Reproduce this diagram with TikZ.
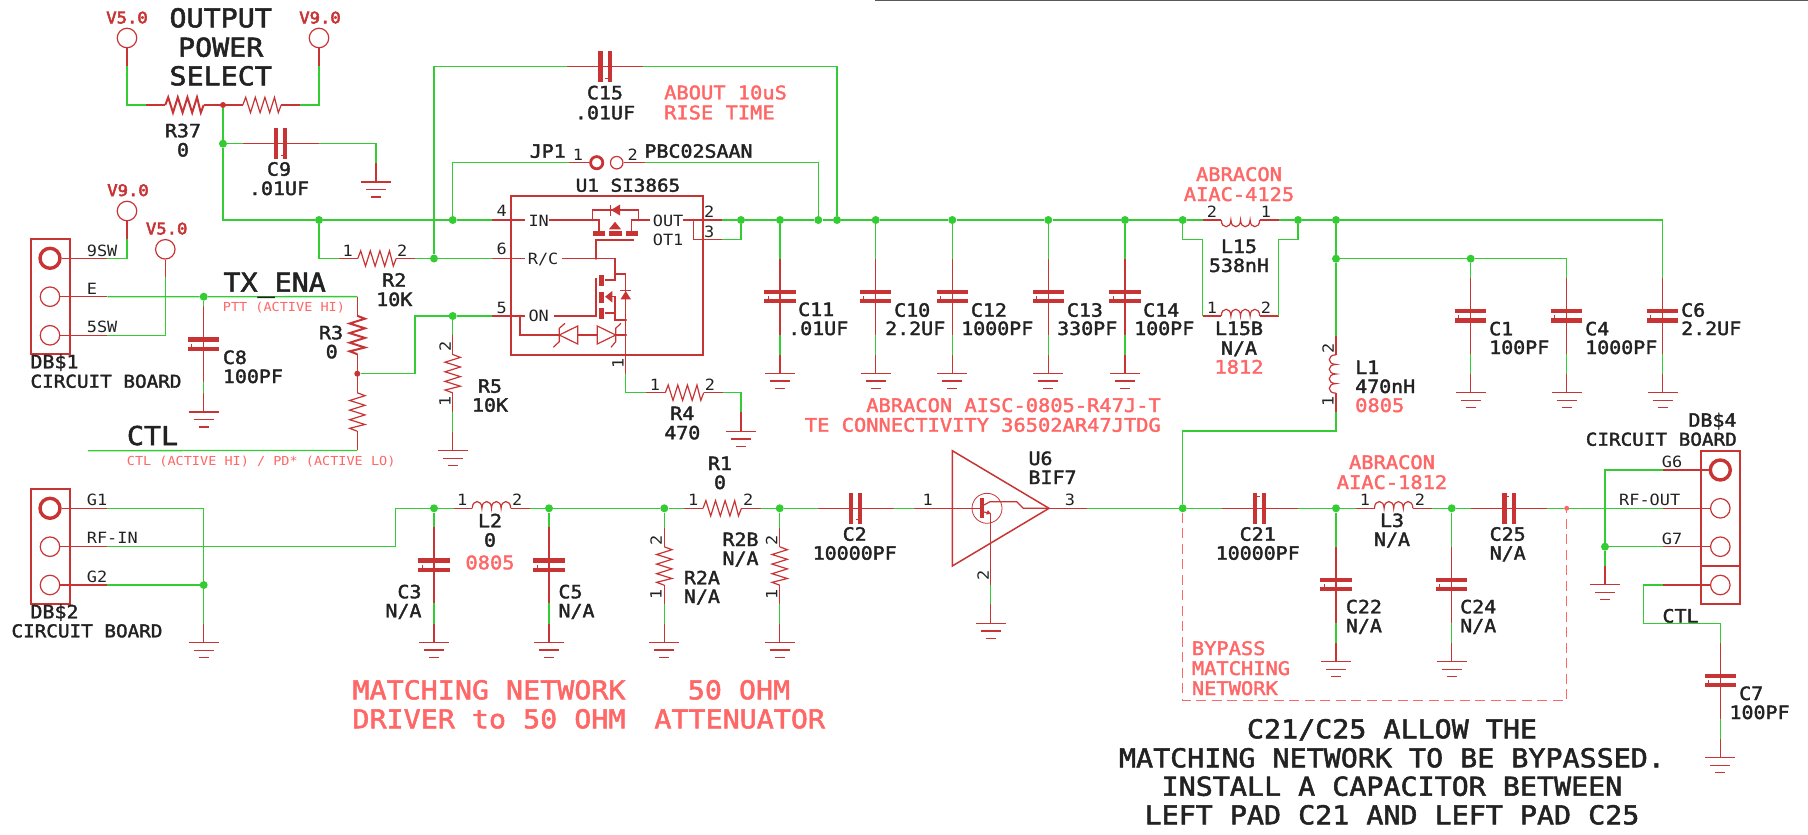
\documentclass[tikz,border=0pt]{standalone}
\usepackage{fontspec}
\newfontfamily\ef[FakeStretch=1.09]{DejaVu Sans Mono}
\newfontfamily\efm[FakeStretch=1.09,FakeBold=2]{DejaVu Sans Mono}
\newfontfamily\efv[FakeStretch=1.09,FakeBold=3.5]{DejaVu Sans Mono}
\newcommand{\fa}{\efm\fontsize{18.3}{20}\selectfont}
\newcommand{\fc}{\efm\fontsize{17.7}{20}\selectfont}
\newcommand{\fpa}{\efm\fontsize{18.7}{20}\selectfont}
\newcommand{\fb}{\ef\fontsize{15.5}{17}\selectfont}
\newcommand{\fs}{\ef\fontsize{12.4}{14}\selectfont}
\newcommand{\fl}{\efm\fontsize{26}{28}\selectfont}
\newcommand{\fv}{\efv\fontsize{15.8}{17}\selectfont}
\definecolor{cg}{HTML}{33CC33}
\definecolor{cr}{HTML}{C83434}
\definecolor{cp}{HTML}{FF6666}
\definecolor{ct}{HTML}{222222}
\tikzset{
 wg/.style={draw=cg,line width=1.3pt},
 wr/.style={draw=cr,line width=1.2pt},
 jn/.style={circle,fill=cg,inner sep=0pt,minimum size=8pt},
 rd/.style={circle,fill=cr,inner sep=0pt,minimum size=6pt},
 pd/.style={circle,fill=cp,inner sep=0pt,minimum size=5pt},
 sd/.style={circle,fill=cr,inner sep=0pt,minimum size=2.6pt},
 pad/.style={circle,draw=cr,line width=1.2pt,inner sep=0pt,minimum size=19.5pt},
 padt/.style={circle,draw=cr,line width=3.4pt,inner sep=0pt,minimum size=20pt},
 conn/.style={rectangle,draw=cr,line width=1.8pt,inner sep=0pt},
 ta/.style={font=\fa,text=ct,inner sep=0pt},
 tc/.style={font=\fc,text=ct,inner sep=0pt},
 tb/.style={font=\fb,text=ct,inner sep=0pt},
 tl/.style={font=\fl,text=ct,inner sep=0pt},
 pa/.style={font=\fpa,text=cp,inner sep=0pt},
 ps/.style={font=\fs,text=cp,inner sep=0pt},
 pl/.style={font=\fl,text=cp,inner sep=0pt},
 tv/.style={font=\fv,text=cr,inner sep=0pt},
}
\newcounter{lbc}
\newcommand{\tx}[5]{\stepcounter{lbc}\node[#1,anchor=#2] (txt\arabic{lbc}) at (#3,#4) {#5};}
% capacitors
\newcommand{\capV}[3]{\coordinate (#1A) at (#2,#3-38);\coordinate (#1B) at (#2,#3+38);
 \draw[wr] (#1A)--(#1B);
 \fill[cr] (#2-15.7,#3-6.9) rectangle (#2+15.7,#3-2.5);
 \fill[cr] (#2-15.7,#3+2.5) rectangle (#2+15.7,#3+6.9);
 \draw[cr,line width=.9pt] (#2-12,#3+2.5)--(#2-12,#3-.5);}
\newcommand{\capH}[4]{\coordinate (#1A) at (#2-38,#3);\coordinate (#1B) at (#2+38,#3);
 \draw[wr] (#1A)--(#1B);
 \fill[cr] (#2-6.9,#3-15.5) rectangle (#2-2.5,#3+15.5);
 \fill[cr] (#2+2.5,#3-15.5) rectangle (#2+6.9,#3+15.5);
 \draw[cr,line width=.9pt] (#2,#3+#4*11.5)--(#2+#4*2.5,#3+#4*11.5);}
% resistors
\newcommand{\zig}{(-19.2,0)--(-16.3,-7.7)--(-11.5,7.7)--(-6.7,-7.7)--(-1.9,7.7)--(2.9,-7.7)--(7.7,7.7)--(12.5,-7.7)--(16.3,7.7)--(19.2,0)}
\newcommand{\resH}[4]{\coordinate (#1A) at (#2-38.4,#3);\coordinate (#1B) at (#2+38.4,#3);
 \draw[wr] (#1A)--(#2-19.2,#3) (#2+19.2,#3)--(#1B);
 \draw[cr,line width=#4,shift={(#2,#3)}] \zig;}
\newcommand{\resV}[4]{\coordinate (#1A) at (#2,#3-38.4);\coordinate (#1B) at (#2,#3+38.4);
 \draw[wr] (#1A)--(#2,#3-19.2) (#2,#3+19.2)--(#1B);
 \draw[cr,line width=#4,shift={(#2,#3)},rotate=-90] \zig;}
% inductors
\newcommand{\bumps}{(-19.2,0) .. controls (-19.2,9) and (-9.6,9) .. (-9.6,0) .. controls (-9.6,9) and (0,9) .. (0,0) .. controls (0,9) and (9.6,9) .. (9.6,0) .. controls (9.6,9) and (19.2,9) .. (19.2,0)}
\newcommand{\indH}[4]{\coordinate (#1A) at (#2-38,#3);\coordinate (#1B) at (#2+38,#3);
 \draw[wr] (#1A)--(#2-19.2,#3) (#2+19.2,#3)--(#1B);
 \draw[wr,shift={(#2,#3)},yscale=#4] \bumps;}
\newcommand{\indV}[3]{\coordinate (#1A) at (#2,#3-38);\coordinate (#1B) at (#2,#3+38);
 \draw[wr] (#1A)--(#2,#3-19.2) (#2,#3+19.2)--(#1B);
 \draw[wr,shift={(#2,#3)},rotate=-90] \bumps;}
% ground
\newcommand{\gnd}[3]{\coordinate (#1S) at (#2,#3-19);
 \draw[wr] (#1S)--(#2,#3);
 \draw[cr,line width=1.4pt] (#2-15,#3)--(#2+15,#3) (#2-10,#3+7.5)--(#2+10,#3+7.5) (#2-5,#3+15)--(#2+5,#3+15);}
\begin{document}
\begin{tikzpicture}[x=1pt,y=-1pt]
\useasboundingbox (0,0) rectangle (1808,835);
\draw[color=black!65,line width=1.3pt] (875,.6)--(1808,.6);
%% junctions
\foreach \n/\a/\b in {jA/223/143.7,jB/319/220,jC/452.7/220,jD/434/258.5,jE/452.7/316,jF/203.7/296.7,
 jG/741/220,jH/780/220,jI/818.3/220,jJ/837/220,jK/875.7/220,jL/952.3/220,jM/1048.3/220,jN/1125/220,
 jO/1182.7/220,jP/1298/220,jQ/1336/220,jR/1336/258.7,jS/1470.7/258.7,jT/203.7/585,jU/434/508.3,
 jV/549/508.3,jW/664.3/508.3,jX/779.7/508.3,jY/1182.7/508.3,jZ/1336/508.3,jAA/1451.7/508.3,jAB/1605/546.7}
 {\node[jn] (\n) at (\a,\b) {};}
\node[rd] (rA) at (223,105) {};
\node[rd] (rB) at (357.3,373.7) {};
\node[pd] (pkD) at (1566.7,508.3) {};
%% pads
\node[pad] (pV5a) at (127,38) {};
\node[pad] (pV9a) at (319,38) {};
\node[pad] (pV9b) at (127,211) {};
\node[pad] (pV5b) at (165.3,249.3) {};
\node[conn,minimum width=38.7pt,minimum height=115pt] (DB1) at (50.3,296.8) {};
\node[padt] (p9S) at (50,258.3) {};
\node[pad] (pE) at (50,296.7) {};
\node[pad] (p5S) at (50,335.3) {};
\node[conn,minimum width=38.7pt,minimum height=115pt] (DB2) at (50.3,546.5) {};
\node[padt] (pG1) at (50,508.3) {};
\node[pad] (pRI) at (50,546.7) {};
\node[pad] (pG2) at (50,585) {};
\node[conn,minimum width=38.7pt,minimum height=153.3pt] (DB4) at (1720.3,527.3) {};
\draw[cr,line width=1.8pt] (DB4.west |- 0,565.7)--(DB4.east |- 0,565.7);
\node[padt] (pG6) at (1720.3,470) {};
\node[pad] (pRF) at (1720.3,508.3) {};
\node[pad] (pG7) at (1720.3,546.7) {};
\node[pad] (pCT) at (1720.3,585) {};
\node[circle,draw=cr,line width=2.8pt,inner sep=0pt,minimum size=12.2pt] (pJ1) at (596.7,162.7) {};
\node[circle,draw=cr,line width=1.2pt,inner sep=0pt,minimum size=12.5pt] (pJ2) at (616.7,162.7) {};
\node[conn,minimum width=192.6pt,minimum height=159pt] (U1) at (607,275.5) {};
%% free wire ends
\foreach \n/\a/\b in {cV5a/127/66,cV9a/319/66,cV9b/127/239.3,cV5b/165.3/277.3,c9S/107.3/258.3,cE/107.3/296.7,c5S/107.3/335.3,
 cCTL/88/450.7,cG1/107/508.3,cRI/107/546.7,cG2/107/585,c396/395.7/546.7,c415/415/373.7,
 cIN/492.3/220,c6/492.3/258.5,c5/492.3/316,cOUT/721.7/220,cO3/721.7/239.3,
 cJL/569.3/162.7,cJR/645/162.7,c626/625.7/374,
 cU1/914.3/508.3,cU3/1086.7/508.3,cU2/990.7/585,c431/1336/431,cT2/1202.5/239.3,cT3/1278.5/239.3,
 cG6/1663/470,cRO/1663/508.3,cG7/1663/546.7,cCT/1663/585,cC7t/1643.3/623.3}
 {\coordinate (\n) at (\a,\b);}
%% components
\resH{Rza}{184.5}{105}{2pt}
\resH{Rzb}{262}{105}{1.2pt}
\capH{C9}{280.5}{143.7}{1}
\gnd{gC9}{376}{182}
\capH{C15}{605}{66.7}{1}
\resH{R2}{377}{258.5}{1.2pt}
\resV{R3}{357.3}{335}{2pt}
\resV{Ry}{357.3}{412}{1.2pt}
\resV{R5}{452.7}{373.7}{1.2pt}
\gnd{gR5}{452.7}{450.7}
\capV{C8}{203.7}{344}
\gnd{gC8}{203.7}{412}
\resH{R4}{684.5}{392.7}{1.2pt}
\gnd{gR4}{741}{431.3}
\capV{C11}{780}{296.5}\gnd{gC11}{780}{373.6}
\capV{C10}{875.7}{296.5}\gnd{gC10}{875.7}{373.6}
\capV{C12}{952.3}{296.5}\gnd{gC12}{952.3}{373.6}
\capV{C13}{1048.3}{296.5}\gnd{gC13}{1048.3}{373.6}
\capV{C14}{1125}{296.5}\gnd{gC14}{1125}{373.6}
\capV{C1}{1470.7}{315.8}\gnd{gC1}{1470.7}{392.7}
\capV{C4}{1566.7}{315.8}\gnd{gC4}{1566.7}{392.7}
\capV{C6}{1662.7}{315.8}\gnd{gC6}{1662.7}{392.7}
\indH{L15}{1240.5}{220}{1}
\indH{Lb}{1240.5}{316}{-1}
\indV{L1}{1336}{374}
\indH{L2}{491.5}{508.3}{-1}
\indH{L3}{1393.7}{508.3}{-1}
\resH{R1}{722.2}{508.3}{1.2pt}
\capV{C3}{434}{565}\gnd{gC3}{434}{642.5}
\capV{C5}{549}{565}\gnd{gC5}{549}{642.5}
\resV{R2a}{664.3}{566}{1.2pt}\gnd{gR2a}{664.3}{642.5}
\resV{R2b}{779.7}{566}{1.2pt}\gnd{gR2b}{779.7}{642.5}
\capH{C2}{855.5}{508.3}{1}
\capH{C21}{1259.5}{508.3}{-1}
\capH{C25}{1509}{508.3}{-1}
\capV{C22}{1336}{584.5}\gnd{gC22}{1336}{661.7}
\capV{C24}{1451.7}{584.5}\gnd{gC24}{1451.7}{661.7}
\capV{C7}{1720.3}{680.5}\gnd{gC7}{1720.3}{757.7}
\gnd{gDB2}{203.7}{642.7}
\gnd{gDB4}{1605}{584.7}
\gnd{gU6}{990.7}{623.3}
%% U6
\draw[cr,line width=1.5pt] (952.3,450.7)--(1049,508.3)--(952.3,566)--cycle;
\draw[cr,line width=.8pt] (987,508.3) circle[radius=15pt];
\fill[cr] (980.2,498.3) rectangle (984.4,518.3);
\draw[wr] (984,505)--(990,501.7)--(1016.7,501.7)--(1023.3,508.3)--(1049,508.3);
\draw[wr] (984,512)--(990.7,513.5);
\fill[cr] (990.7,514)--(986,514.5)--(988,510)--cycle;
%% U1 interior
\draw[wr] (525,220)--(cIN) (549,220)--(592.3,220)--(599,220)--(599,231)
 (592.3,220)--(592.3,210)--(638.3,210)--(638.3,220) (631.7,231)--(631.7,220)--(650,220)
 (683.3,220)--(cOUT) (693.3,220)--(693.3,239.3)--(cO3);
\draw[wr] (610.7,204.5)--(610.7,215.5);
\fill[cr] (611,210)--(620,204.5)--(620,215.5)--cycle;
\fill[cr] (615,221.7)--(609,229.3)--(621,229.3)--cycle;
\fill[cr] (592.7,231.2) rectangle (605,235.5);
\fill[cr] (609.3,231.2) rectangle (621.7,235.5);
\fill[cr] (625.7,231.2) rectangle (638.3,235.5);
\draw[wr] (596,258.5)--(596,240)--(634.3,240);
\draw[wr] (525,258.5)--(c6) (562.3,258.5)--(615,258.5)--(615,274)--(625.7,274)--(c626);
\draw[cr,line width=2pt] (615,274)--(615,280)--(605,280) (605,313.3)--(615,313.3);
\fill[cr] (599.3,275) rectangle (604.3,286);
\fill[cr] (599.3,291.7) rectangle (604.3,302.7);
\fill[cr] (599.3,308.3) rectangle (604.3,319);
\fill[cr] (605,296.7)--(612.3,291)--(612.3,302.5)--cycle;
\draw[wr] (612,296.7)--(615,296.7)--(615,320)--(625.7,320);
\draw[wr] (620.2,290.7)--(631.2,290.7);
\fill[cr] (625.7,291)--(620.5,299.3)--(631,299.3)--cycle;
\draw[wr] (c5)--(525,316) (554,316)--(596,316)--(596,277.7);
\draw[wr] (520,316)--(520,335)--(559.3,335);
\draw[wr] (565,323.3)--(559.3,328.3)--(559.3,341.7)--(553.3,347.3);
\draw[wr] (559.3,335)--(577.7,326)--(577.7,344)--cycle;
\draw[wr] (577.7,335)--(597.3,335);
\draw[wr] (597.3,326)--(615.7,335)--(597.3,344)--cycle;
\draw[wr] (621,323.3)--(615.7,328.3)--(615.7,341.7)--(611,347.3);
\draw[wr] (615.7,335)--(625.7,335);
\foreach \n/\a/\b in {d1/592.3/220,d2/638.3/220,d3/693.3/220,d4/596/258.5,d5/615/274,d6/520/316,d7/625.7/320,d8/625.7/335}
 {\node[sd] (\n) at (\a,\b) {};}
%% red stubs
\draw[wr] (pV5a)--(cV5a) (pV9a)--(cV9a) (pV9b)--(cV9b) (pV5b)--(cV5b);
\draw[wr] (p9S)--(c9S) (pE)--(cE) (p5S)--(c5S) (pG1)--(cG1) (pRI)--(cRI) (pG2)--(cG2);
\draw[wr] (pG6)--(cG6) (pRF)--(cRO) (pG7)--(cG7) (pCT)--(cCT);
\draw[wr] (pJ1)--(cJL) (pJ2)--(cJR);
\draw[wr] (RzaB)--(rA) (rA)--(RzbA) (R3B)--(rB) (rB)--(RyA);
\draw[wr] (cU1)--(982,508.3) (1049,508.3)--(cU3);
\draw[wr] (990.7,513.5)--(cU2);
\draw[wr] (C2B)--(875,508.3);
%% green wires
\draw[wg] (cV5a) |- (RzaA);
\draw[wg] (RzbB) -| (cV9a);
\draw[wg] (rA)--(jA)--(C9A);
\draw[wg] (C9B) -| (gC9S);
\draw[wg] (jA) |- (jB);
\draw[wg] (jB)--(jC)--(cIN);
\draw[wg] (jB) |- (R2A);
\draw[wg] (R2B)--(jD)--(c6);
\draw[wg] (jD) |- (C15A);
\draw[wg] (C15B) -| (jJ);
\draw[wg] (jC) |- (cJL);
\draw[wg] (cJR) -| (jI);
\draw[wg] (rB)--(c415) |- (jE);
\draw[wg] (jE)--(c5);
\draw[wg] (jE)--(R5A);
\draw[wg] (R5B)--(gR5S);
\draw[wg] (c9S) -| (cV9b);
\draw[wg] (c5S) -| (cV5b);
\draw[wg] (cE)--(jF)--(R3A);
\draw[wg] (RyB)--(cCTL);
\draw[wg] (jF)--(C8A);
\draw[wg] (C8B)--(gC8S);
\draw[wg] (cOUT)--(jG);
\draw[wg] (cO3) -| (jG);
\draw[wg] (jG)--(jH)--(jI)--(jJ)--(jK)--(jL)--(jM)--(jN)--(jO)--(L15A);
\draw[wg] (L15B)--(jP)--(jQ);
\draw[wg] (jQ) -| (C6A);
\draw[wg] (jH)--(C11A) (C11B)--(gC11S);
\draw[wg] (jK)--(C10A) (C10B)--(gC10S);
\draw[wg] (jL)--(C12A) (C12B)--(gC12S);
\draw[wg] (jM)--(C13A) (C13B)--(gC13S);
\draw[wg] (jN)--(C14A) (C14B)--(gC14S);
\draw[wg] (jO) |- (cT2);
\draw[wg] (cT2)--(LbA);
\draw[wg] (LbB)--(cT3);
\draw[wg] (cT3) -| (jP);
\draw[wg] (jQ)--(jR)--(L1A);
\draw[wg] (jR)--(jS);
\draw[wg] (jS)--(C1A) (C1B)--(gC1S);
\draw[wg] (jS) -| (C4A);
\draw[wg] (C4B)--(gC4S);
\draw[wg] (C6B)--(gC6S);
\draw[wg] (L1B)--(c431) -| (jY);
\draw[wg] (c626) |- (R4A);
\draw[wg] (R4B) -| (gR4S);
\draw[wg] (cG1) -| (jT);
\draw[wg] (cG2)--(jT)--(gDB2S);
\draw[wg] (cRI)--(c396) |- (jU);
\draw[wg] (jU)--(L2A) (L2B)--(jV)--(jW)--(R1A) (R1B)--(jX)--(C2A);
\draw[wg] (jU)--(C3A) (C3B)--(gC3S);
\draw[wg] (jV)--(C5A) (C5B)--(gC5S);
\draw[wg] (jW)--(R2aA) (R2aB)--(gR2aS);
\draw[wg] (jX)--(R2bA) (R2bB)--(gR2bS);
\draw[wg] (894,508.3)--(cU1);
\draw[wg] (cU2)--(gU6S);
\draw[wg] (cU3)--(jY)--(C21A) (C21B)--(jZ)--(L3A) (L3B)--(jAA)--(C25A) (C25B)--(pkD)--(cRO);
\draw[wg] (jZ)--(C22A) (C22B)--(gC22S);
\draw[wg] (jAA)--(C24A) (C24B)--(gC24S);
\draw[wg] (cG6) -| (jAB);
\draw[wg] (cG7)--(jAB)--(gDB4S);
\draw[wg] (cCT) -| (cC7t);
\draw[wg] (cC7t) -| (C7A);
\draw[wg] (C7B)--(gC7S);
%% dashed bypass outline
\draw[cp,line width=1.5pt,dash pattern=on 10pt off 5.5pt] (jY)--(1182.7,700.7)--(1566.7,700.7)--(pkD);
%% texts
\tx{tv}{base}{127}{23.3}{V5.0}
\tx{tv}{base}{320}{23.3}{V9.0}
\tx{tv}{base}{128}{196}{V9.0}
\tx{tv}{base}{166.7}{234.3}{V5.0}
\tx{tl}{base}{220.7}{27.3}{OUTPUT}
\tx{tl}{base}{220.7}{56.7}{POWER}
\tx{tl}{base}{220.7}{85.3}{SELECT}
\tx{ta}{base}{183}{137.3}{R37}
\tx{ta}{base}{183}{156.5}{0}
\tx{ta}{base}{279}{175.7}{C9}
\tx{ta}{base}{279}{195}{.01UF}
\tx{tb}{base}{347.7}{256.7}{1}
\tx{tb}{base}{402.3}{256.7}{2}
\tx{ta}{base}{394.3}{286.7}{R2}
\tx{ta}{base}{394.3}{306}{10K}
\tx{tb}{base west}{86.7}{256}{9SW}
\tx{tb}{base west}{86.7}{294.3}{E}
\tx{tb}{base west}{86.7}{332.7}{5SW}
\tx{ta}{base west}{30.3}{368.3}{DB\$1}
\tx{tc}{base west}{30.3}{387.7}{CIRCUIT BOARD}
\tx{tl}{base west}{223.3}{291.7}{TX\_ENA}
\tx{ps}{base west}{222.7}{311}{PTT (ACTIVE HI)}
\tx{ta}{base west}{222.7}{364}{C8}
\tx{ta}{base west}{222.7}{383}{100PF}
\tx{ta}{base east}{343.3}{339.3}{R3}
\tx{ta}{base}{331.7}{358.3}{0}
\tx{tl}{base west}{126.7}{445}{CTL}
\tx{ps}{base west}{126.7}{465}{CTL (ACTIVE HI) / PD* (ACTIVE LO)}
\tx{tb,rotate=90}{center}{445}{346.7}{2}
\tx{tb,rotate=90}{center}{445}{401.7}{1}
\tx{ta}{base}{490}{392.7}{R5}
\tx{ta}{base}{490}{411.7}{10K}
\tx{ta}{base}{605}{99.3}{C15}
\tx{ta}{base}{605}{119.3}{.01UF}
\tx{pa}{base west}{664}{99.3}{ABOUT 10uS}
\tx{pa}{base west}{664}{119.3}{RISE TIME}
\tx{ta}{base east}{566}{157.7}{JP1}
\tx{tb}{base}{578}{160}{1}
\tx{tb}{base}{632.7}{160}{2}
\tx{ta}{base west}{644.3}{157.7}{PBC02SAAN}
\tx{tc}{base}{628}{191.7}{U1 SI3865}
\tx{tb}{base}{501.7}{216.7}{4}
\tx{tb}{base}{501.7}{254.7}{6}
\tx{tb}{base}{501.7}{313}{5}
\tx{tb}{base west}{528.3}{226}{IN}
\tx{tb}{base west}{527.7}{264.3}{R/C}
\tx{tb}{base west}{528.3}{321.7}{ON}
\tx{tb}{base west}{652.7}{226}{OUT}
\tx{tb}{base west}{652.7}{245}{OT1}
\tx{tb}{base}{709.3}{217.3}{2}
\tx{tb}{base}{709.3}{237.3}{3}
\tx{tb,rotate=90}{center}{618}{363}{1}
\tx{tb}{base}{655}{390.7}{1}
\tx{tb}{base}{710}{390.7}{2}
\tx{ta}{base}{682.3}{420}{R4}
\tx{ta}{base}{682.3}{439.3}{470}
\tx{ta}{base west}{798}{316}{C11}
\tx{ta}{base west}{788}{335}{.01UF}
\tx{ta}{base west}{894}{316.7}{C10}
\tx{ta}{base west}{885}{335}{2.2UF}
\tx{ta}{base west}{970.7}{316.7}{C12}
\tx{ta}{base west}{961}{335}{1000PF}
\tx{ta}{base west}{1066.7}{316.7}{C13}
\tx{ta}{base west}{1057}{335}{330PF}
\tx{ta}{base west}{1143}{316.7}{C14}
\tx{ta}{base west}{1134}{335}{100PF}
\tx{pa}{base}{1239}{181}{ABRACON}
\tx{pa}{base}{1239}{201}{AIAC-4125}
\tx{tb}{base}{1212}{217.7}{2}
\tx{tb}{base}{1266}{217.7}{1}
\tx{ta}{base}{1239}{253}{L15}
\tx{ta}{base}{1239}{272}{538nH}
\tx{tb}{base}{1212}{313}{1}
\tx{tb}{base}{1266}{313}{2}
\tx{ta}{base}{1239}{335}{L15B}
\tx{ta}{base}{1239}{354.6}{N/A}
\tx{pa}{base}{1239}{373.7}{1812}
\tx{pa}{base east}{1161}{412}{ABRACON AISC-0805-R47J-T}
\tx{pa}{base east}{1161}{431.7}{TE CONNECTIVITY 36502AR47JTDG}
\tx{tb,rotate=90}{center}{1328}{348}{2}
\tx{tb,rotate=90}{center}{1328}{401.7}{1}
\tx{ta}{base west}{1355}{374}{L1}
\tx{ta}{base west}{1355}{393}{470nH}
\tx{pa}{base west}{1355}{412}{0805}
\tx{ta}{base west}{1489}{335.3}{C1}
\tx{ta}{base west}{1489}{354}{100PF}
\tx{ta}{base west}{1585}{335.3}{C4}
\tx{ta}{base west}{1585}{354}{1000PF}
\tx{ta}{base west}{1681}{316.7}{C6}
\tx{ta}{base west}{1681}{335}{2.2UF}
\tx{ta}{base east}{1736.7}{426.7}{DB\$4}
\tx{tc}{base east}{1737}{445.7}{CIRCUIT BOARD}
\tx{tb}{base west}{1661.7}{467.7}{G6}
\tx{tb}{base west}{1619}{505.7}{RF-OUT}
\tx{tb}{base west}{1661.7}{544.3}{G7}
\tx{ta}{base west}{1662.3}{622.5}{CTL}
\tx{ta}{base west}{1739}{700}{C7}
\tx{ta}{base west}{1729.3}{719}{100PF}
\tx{tb}{base west}{86.7}{505}{G1}
\tx{tb}{base west}{86.7}{543.3}{RF-IN}
\tx{tb}{base west}{86.7}{582.3}{G2}
\tx{ta}{base west}{30.3}{618.3}{DB\$2}
\tx{tc}{base west}{11.3}{637.3}{CIRCUIT BOARD}
\tx{ta}{base east}{421.7}{598.3}{C3}
\tx{ta}{base east}{421.7}{617.3}{N/A}
\tx{tb}{base}{462.3}{505.7}{1}
\tx{tb}{base}{517.3}{505.7}{2}
\tx{ta}{base}{490}{527.3}{L2}
\tx{ta}{base}{490}{546.7}{0}
\tx{pa}{base}{490}{569.3}{0805}
\tx{ta}{base west}{558.3}{598.3}{C5}
\tx{ta}{base west}{558.3}{617.3}{N/A}
\tx{ta}{base}{720}{470}{R1}
\tx{ta}{base}{720}{489}{0}
\tx{tb}{base}{693.3}{505.7}{1}
\tx{tb}{base}{748.3}{505.7}{2}
\tx{tb,rotate=90}{center}{656}{540}{2}
\tx{tb,rotate=90}{center}{656}{594}{1}
\tx{tb,rotate=90}{center}{771.7}{540}{2}
\tx{tb,rotate=90}{center}{771.7}{594}{1}
\tx{ta}{base west}{683.7}{584.3}{R2A}
\tx{ta}{base west}{683.7}{603}{N/A}
\tx{ta}{base west}{722.3}{546}{R2B}
\tx{ta}{base west}{722.3}{565}{N/A}
\tx{ta}{base}{854.7}{540.7}{C2}
\tx{ta}{base}{854.7}{559.7}{10000PF}
\tx{tb}{base}{927.7}{505}{1}
\tx{tb}{base}{1070}{505}{3}
\tx{tb,rotate=90}{center}{983}{575}{2}
\tx{ta}{base west}{1028.3}{465}{U6}
\tx{ta}{base west}{1028.3}{484}{BIF7}
\tx{ta}{base}{1257.7}{540.7}{C21}
\tx{ta}{base}{1257.7}{559.7}{10000PF}
\tx{pa}{base}{1392}{469}{ABRACON}
\tx{pa}{base}{1392}{489}{AIAC-1812}
\tx{tb}{base}{1365}{505.7}{1}
\tx{tb}{base}{1420}{505.7}{2}
\tx{ta}{base}{1392}{527}{L3}
\tx{ta}{base}{1392}{546}{N/A}
\tx{ta}{base}{1507.7}{540.7}{C25}
\tx{ta}{base}{1507.7}{559.7}{N/A}
\tx{ta}{base west}{1345.7}{613.3}{C22}
\tx{ta}{base west}{1345.7}{632.3}{N/A}
\tx{ta}{base west}{1460}{613.3}{C24}
\tx{ta}{base west}{1460}{632.3}{N/A}
\tx{pa}{base west}{1191.7}{655}{BYPASS}
\tx{pa}{base west}{1191.7}{675}{MATCHING}
\tx{pa}{base west}{1191.7}{695}{NETWORK}
\tx{pl}{base}{489}{699.3}{MATCHING NETWORK}
\tx{pl}{base}{489}{728.3}{DRIVER to 50 OHM}
\tx{pl}{base}{739}{699.3}{50 OHM}
\tx{pl}{base}{739.7}{728.3}{ATTENUATOR}
\tx{tl}{base}{1392}{738.3}{C21/C25 ALLOW THE}
\tx{tl}{base}{1392}{767.3}{MATCHING NETWORK TO BE BYPASSED.}
\tx{tl}{base}{1392}{795.7}{INSTALL A CAPACITOR BETWEEN}
\tx{tl}{base}{1392}{824.3}{LEFT PAD C21 AND LEFT PAD C25}
\end{tikzpicture}
\end{document}
